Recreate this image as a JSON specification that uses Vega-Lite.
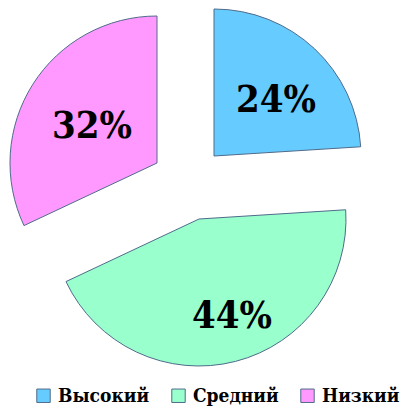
{
  "$schema": "https://vega.github.io/schema/vega-lite/v6.json",
  "width": 409,
  "height": 375,
  "autosize": "none",
  "padding": {"left": 0, "top": 0, "right": 0, "bottom": 34},
  "background": "white",
  "data": {
    "values": [
      {"cat": "Высокий", "value": 24, "ord": 1, "label": "24%"},
      {"cat": "Средний", "value": 44, "ord": 2, "label": "44%"},
      {"cat": "Низкий", "value": 32, "ord": 3, "label": "32%"}
    ]
  },
  "config": {"view": {"stroke": null}},
  "layer": [
    {
      "transform": [
        {"stack": "value", "groupby": [], "sort": [{"field": "ord"}], "as": ["v0", "v1"]},
        {"filter": "datum.cat == 'Высокий'"}
      ],
      "mark": {"type": "arc", "outerRadius": 147, "xOffset": 9.5, "yOffset": -31.5, "stroke": "#4f6b8a", "strokeWidth": 1},
      "encoding": {
        "theta": {"field": "v0", "type": "quantitative", "scale": {"domain": [0, 100]}},
        "theta2": {"field": "v1"},
        "color": {
          "field": "cat", "type": "nominal",
          "scale": {"domain": ["Высокий", "Средний", "Низкий"], "range": ["#66CCFF", "#99FFCC", "#FF99FF"]},
          "legend": {
            "orient": "none", "legendX": 34, "legendY": 386, "direction": "horizontal", "title": null,
            "symbolType": "square", "symbolSize": 180, "symbolStrokeColor": "#4f6b8a", "symbolStrokeWidth": 1,
            "symbolOpacity": 1,
            "labelFont": "DejaVu Serif Condensed, DejaVu Serif", "labelFontWeight": "bold", "labelFontSize": 19, "labelColor": "black",
            "labelOffset": 5, "columnPadding": 19, "labelLimit": 200
          }
        }
      }
    },
    {
      "transform": [
        {"stack": "value", "groupby": [], "sort": [{"field": "ord"}], "as": ["v0", "v1"]},
        {"filter": "datum.cat == 'Средний'"}
      ],
      "mark": {"type": "arc", "outerRadius": 147, "xOffset": -5.5, "yOffset": 31.5, "stroke": "#4f6b8a", "strokeWidth": 1},
      "encoding": {
        "theta": {"field": "v0", "type": "quantitative", "scale": {"domain": [0, 100]}},
        "theta2": {"field": "v1"},
        "color": {"field": "cat", "type": "nominal"}
      }
    },
    {
      "transform": [
        {"stack": "value", "groupby": [], "sort": [{"field": "ord"}], "as": ["v0", "v1"]},
        {"filter": "datum.cat == 'Низкий'"}
      ],
      "mark": {"type": "arc", "outerRadius": 147, "xOffset": -47.5, "yOffset": -24.5, "stroke": "#4f6b8a", "strokeWidth": 1},
      "encoding": {
        "theta": {"field": "v0", "type": "quantitative", "scale": {"domain": [0, 100]}},
        "theta2": {"field": "v1"},
        "color": {"field": "cat", "type": "nominal"}
      }
    },
    {
      "mark": {"type": "text", "radius": 84, "xOffset": 14, "yOffset": -25.3, "font": "DejaVu Serif Condensed, DejaVu Serif", "fontWeight": "bold", "fontSize": 38, "color": "black"},
      "encoding": {
        "theta": {"field": "value", "type": "quantitative", "stack": true},
        "order": {"field": "ord"},
        "text": {"condition": {"test": "datum.cat == 'Высокий'", "field": "label"}, "value": ""}
      }
    },
    {
      "mark": {"type": "text", "radius": 103, "xOffset": 1.9, "yOffset": 29.7, "font": "DejaVu Serif Condensed, DejaVu Serif", "fontWeight": "bold", "fontSize": 38, "color": "black"},
      "encoding": {
        "theta": {"field": "value", "type": "quantitative", "stack": true},
        "order": {"field": "ord"},
        "text": {"condition": {"test": "datum.cat == 'Средний'", "field": "label"}, "value": ""}
      }
    },
    {
      "mark": {"type": "text", "radius": 74, "xOffset": -50, "yOffset": -20.8, "font": "DejaVu Serif Condensed, DejaVu Serif", "fontWeight": "bold", "fontSize": 38, "color": "black"},
      "encoding": {
        "theta": {"field": "value", "type": "quantitative", "stack": true},
        "order": {"field": "ord"},
        "text": {"condition": {"test": "datum.cat == 'Низкий'", "field": "label"}, "value": ""}
      }
    }
  ]
}
